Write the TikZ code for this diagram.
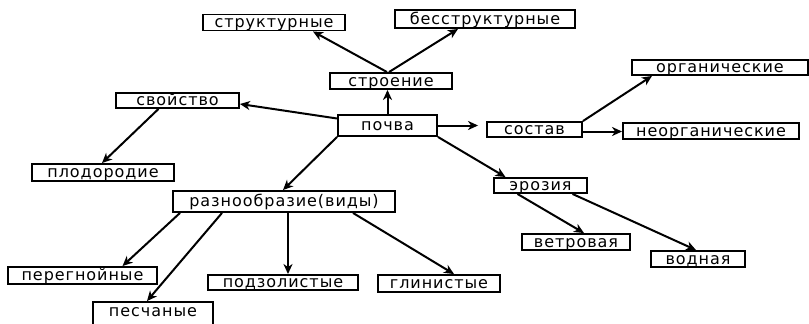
\documentclass[tikz,border=0pt]{standalone}
\usepackage{fontspec}
\usepackage{tikz}
\usetikzlibrary{shapes.geometric, arrows.meta, positioning}
\newfontfamily\boxfont[LetterSpace=6]{DejaVu Sans}
\tikzstyle{concept} = [rectangle, 
draw=black, 
line width=1.9pt, 
inner sep=0pt, 
text height=12pt, 
text depth=1.5pt, 
text centered, 
font=\boxfont\fontsize{16}{18}\selectfont]
\tikzstyle{arrow} = [line width=2pt,-{Stealth[length=10pt,width=9pt,inset=3pt]},draw=black]

\begin{document}
\begin{tikzpicture}[x=1pt, y=-1pt]

        \useasboundingbox (0,0) rectangle (809,324);

        % Узлы
        \node (pochva) [concept, minimum width=99pt, minimum height=21pt] at (387.5,125.5) {почва};
        \node (stroenie) [concept, minimum width=122pt, minimum height=16pt] at (391,81) {строение};
        \node (strukt) [concept, minimum width=142pt, minimum height=16pt] at (274,22.5) {структурные};
        \node (bestrukt) [concept, minimum width=180pt, minimum height=18pt] at (485,19) {бесструктурные};
        \node (svoistvo) [concept, minimum width=123pt, minimum height=15pt] at (177.5,100.5) {свойство};
        \node (plodor) [concept, minimum width=142pt, minimum height=17pt] at (103,172.5) {плодородие};
        \node (sostav) [concept, minimum width=95pt, minimum height=15pt] at (534.5,129.5) {состав};
        \node (organ) [concept, minimum width=176pt, minimum height=15pt] at (720,67.5) {органические};
        \node (neorgan) [concept, minimum width=176pt, minimum height=16pt] at (711,131) {неорганические};
        \node (raznoobr) [concept, minimum width=222pt, minimum height=21pt] at (284,201.5) {разнообразие(виды)};
        \node (peregn) [concept, minimum width=149pt, minimum height=17pt] at (82.5,275.5) {перегнойные};
        \node (peschan) [concept, minimum width=120pt, minimum height=24pt, text depth=7.5pt] at (153,314) {песчаные};
        \node (podzol) [concept, minimum width=150pt, minimum height=15pt] at (283,282.5) {подзолистые};
        \node (glinist) [concept, minimum width=122pt, minimum height=17pt] at (439,283.5) {глинистые};
        \node (eroziya) [concept, minimum width=93pt, minimum height=15pt] at (540.5,185.5) {эрозия};
        \node (vetrov) [concept, minimum width=108pt, minimum height=16pt] at (576,242) {ветровая};
        \node (vodnaya) [concept, minimum width=94pt, minimum height=16pt] at (698,259) {водная};

        % Связи
        \draw [arrow] ([xshift=-4pt]stroenie.north) -- ([xshift=39pt]strukt.south);
        \draw [arrow] ([xshift=-2pt]stroenie.north) -- ([xshift=-27pt]bestrukt.south);
        \draw [arrow] (pochva.north) -- (pochva.north |- stroenie.south);
        \draw [arrow] ([yshift=7pt]pochva.west) -- ([yshift=-3.5pt]svoistvo.east);
        \draw [arrow] ([xshift=-19pt]svoistvo.south) -- ([xshift=-1pt]plodor.north);
        \draw [arrow, shorten >=8pt] (pochva.east) -- (pochva.east -| sostav.west);
        \draw [arrow] (sostav.north east) -- ([xshift=-68pt]organ.south);
        \draw [arrow] ([yshift=-2pt]sostav.east) -- ([yshift=-2pt]sostav.east -| neorgan.west);
        \draw [arrow] (pochva.south west) -- ([xshift=-1pt]raznoobr.north);
        \draw [arrow] (pochva.south east) -- ([xshift=-35pt]eroziya.north);
        \draw [arrow] ([xshift=-104pt]raznoobr.south) -- ([xshift=40pt]peregn.north);
        \draw [arrow] ([xshift=-62pt]raznoobr.south) -- ([xshift=-6pt]peschan.north);
        \draw [arrow] ([xshift=4pt]raznoobr.south) -- ([xshift=4pt]raznoobr.south |- podzol.north);
        \draw [arrow] ([xshift=69pt]raznoobr.south) -- ([xshift=15pt]glinist.north);
        \draw [arrow] ([xshift=-23pt]eroziya.south) -- ([xshift=8pt]vetrov.north);
        \draw [arrow] ([xshift=32pt]eroziya.south) -- ([xshift=-2pt]vodnaya.north);

\end{tikzpicture}
\end{document}
